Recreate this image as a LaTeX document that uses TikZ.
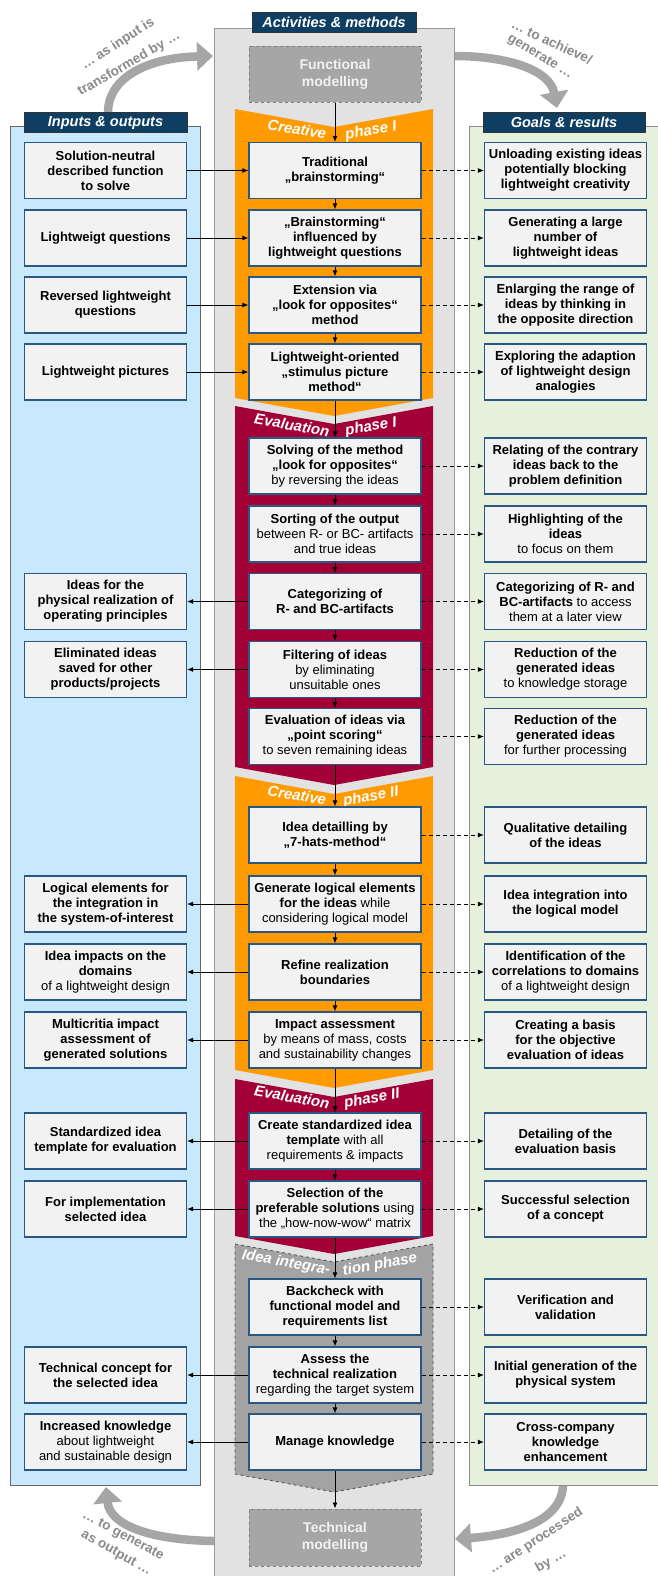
\documentclass[tikz,border=0pt]{standalone}
\usepackage{fontspec}
\setmainfont{Liberation Sans}
\usetikzlibrary{arrows.meta}

\definecolor{boxblue}{HTML}{2A5783}
\definecolor{headblue}{HTML}{0E3E62}
\definecolor{panelblue}{HTML}{C8E9FB}
\definecolor{panelgreen}{HTML}{E5F1DC}
\definecolor{colgray}{HTML}{E2E2E2}
\definecolor{creaorange}{HTML}{FF9B00}
\definecolor{evalred}{HTML}{A30038}
\definecolor{intgray}{HTML}{A3A3A3}
\definecolor{fatgray}{HTML}{A6A6A6}
\definecolor{txtgray}{HTML}{8A8A8A}

\begin{document}
\begin{tikzpicture}[x=1pt, y=-1pt,
		actbox/.style={draw=boxblue, line width=1.2pt, fill=black!5, align=center, inner sep=1pt,
			minimum width=172pt, minimum height=56pt, font=\fontsize{13}{15}\selectfont\bfseries},
		sidebox/.style={actbox, minimum width=162pt},
		headbox/.style={draw=black!80, line width=.8pt, fill=headblue, text=white, inner sep=0pt,
			minimum height=20pt, font=\fontsize{14.5}{16}\selectfont\bfseries\itshape},
		modbox/.style={draw=black!50, dashed, line width=1pt, fill=black!35, text=black!5, align=center,
			minimum width=172pt, minimum height=56pt, font=\fontsize{14}{17}\selectfont\bfseries},
		phaselabel/.style={text=white, inner sep=0pt, font=\fontsize{15}{15}\selectfont\bfseries\itshape},
		loopnote/.style={text=txtgray, inner sep=0pt, font=\fontsize{13.5}{16}\selectfont\bfseries},
		fatarrow/.style={draw=fatgray, line width=8.5pt, -{Triangle[length=16pt, width=28pt]}},
		flowarrow/.style={line width=.9pt, -{Latex[length=6pt, width=5pt]}},
		goalflow/.style={flowarrow, dash pattern=on 4pt off 3pt}]

		\useasboundingbox (0,0) rectangle (657,1576);
		\fill[white] (0,0) rectangle (657,1576);

		\draw[fatarrow] (108,112) .. controls (108,82) and (140,58) .. (213,56);
		\draw[fatarrow] (454,56) .. controls (508,56) and (550,70) .. (557,108);
		\draw[fatarrow] (214,1541) .. controls (152,1540) and (110,1526) .. (106,1487);
		\draw[fatarrow] (563,1485) .. controls (562,1522) and (512,1535) .. (455,1539);

		\node[loopnote, rotate=33] (tl1) at (118,44) {… as input is};
		\node[loopnote, rotate=30] (tl2) at (129,64) {transformed by …};
		\node[loopnote, rotate=-25] (tr1) at (552,42) {… to achieve/};
		\node[loopnote, rotate=-31] (tr2) at (540,57) {generate …};
		\node[loopnote, rotate=-28] (bl1) at (123,1536) {… to generate};
		\node[loopnote, rotate=-29] (bl2) at (116,1553) {as output …};
		\node[loopnote, rotate=33] (br1) at (536,1541) {… are processed};
		\node[loopnote, rotate=30] (br2) at (551,1561) {by …};

		\filldraw[draw=black!60, line width=1pt, fill=panelblue] (10,127) rectangle (200,1485);
		\filldraw[draw=black!45, line width=1pt, fill=panelgreen] (469,127) rectangle (665,1485);
		\filldraw[draw=black!40, line width=1pt, fill=colgray] (214,29) rectangle (454,1590);

		\fill[creaorange] (235,109) -- (334,127) -- (433,109) -- (433,398) -- (334,416) -- (235,398) -- cycle;
		\fill[evalred] (235,406) -- (334,424) -- (433,406) -- (433,767) -- (334,785) -- (235,767) -- cycle;
		\fill[creaorange] (235,776) -- (334,794) -- (433,776) -- (433,1070) -- (334,1088) -- (235,1070) -- cycle;
		\fill[evalred] (235,1079) -- (334,1097) -- (433,1079) -- (433,1236) -- (334,1254) -- (235,1236) -- cycle;
		\filldraw[fill=intgray, draw=black!65, dashed, line width=.9pt] (235,1244) -- (334,1262) -- (433,1244) -- (433,1474) -- (334,1492) -- (235,1474) -- cycle;

		\node[phaselabel, rotate=-10] (c1a) at (297,129) {Creative};
		\node[phaselabel, rotate=10] (c1b) at (371,131) {phase I};
		\node[phaselabel, rotate=-10] (e1a) at (292,425) {Evaluation};
		\node[phaselabel, rotate=10] (e1b) at (371,427) {phase I};
		\node[phaselabel, rotate=-10] (c2a) at (297,795) {Creative};
		\node[phaselabel, rotate=10] (c2b) at (371,797) {phase II};
		\node[phaselabel, rotate=-10] (e2a) at (292,1097) {Evaluation};
		\node[phaselabel, rotate=10] (e2b) at (372,1099) {phase II};
		\node[phaselabel, rotate=-10] (i1a) at (286,1263) {Idea integra-};
		\node[phaselabel, rotate=10] (i1b) at (380,1265) {tion phase};

		\node[headbox, minimum width=164pt] (acthead) at (334,22) {Activities \& methods};
		\node[headbox, minimum width=163pt] (inhead) at (105.5,122.5) {Inputs \& outputs};
		\node[headbox, minimum width=162pt] (goalhead) at (564,122.5) {Goals \& results};

		\node[modbox] (funmod) at (335,74.5) {Functional\\modelling};
		\node[modbox, minimum height=57pt] (techmod) at (335,1537.5) {Technical\\modelling};

		\node[actbox] (m1) at (335,170.5) {Traditional\\„brainstorming“};
		\node[actbox] (m2) at (335,238) {„Brainstorming“\\influenced by\\lightweight questions};
		\node[actbox] (m3) at (335,305) {Extension via\\„look for opposites“\\method};
		\node[actbox] (m4) at (335,372) {Lightweight-oriented\\„stimulus picture\\method“};
		\node[actbox] (m5) at (335,466) {Solving of the method\\„look for opposites“\\\mdseries by reversing the ideas};
		\node[actbox] (m6) at (335,534) {Sorting of the output\\\mdseries between R- or BC- artifacts\\\mdseries and true ideas};
		\node[actbox] (m7) at (335,601.5) {Categorizing of\\R- and BC-artifacts};
		\node[actbox] (m8) at (335,669.5) {Filtering of ideas\\\mdseries by eliminating\\\mdseries unsuitable ones};
		\node[actbox] (m9) at (335,736.5) {Evaluation of ideas via\\„point scoring“\\\mdseries to seven remaining ideas};
		\node[actbox] (m10) at (335,835) {Idea detailling by\\„7-hats-method“};
		\node[actbox] (m11) at (335,904) {Generate logical elements\\for the ideas {\mdseries while}\\\mdseries considering logical model};
		\node[actbox] (m12) at (335,972) {Refine realization\\boundaries};
		\node[actbox] (m13) at (335,1040) {Impact assessment\\\mdseries by means of mass, costs\\\mdseries and sustainability changes};
		\node[actbox] (m14) at (335,1141) {Create standardized idea\\template {\mdseries with all}\\\mdseries requirements \& impacts};
		\node[actbox] (m15) at (335,1209) {Selection of the\\preferable solutions {\mdseries using}\\\mdseries the „how-now-wow“ matrix};
		\node[actbox] (m16) at (335,1307) {Backcheck with\\functional model and\\requirements list};
		\node[actbox] (m17) at (335,1375) {Assess the\\technical realization\\\mdseries regarding the target system};
		\node[actbox] (m18) at (335,1442) {Manage knowledge};

		\node[sidebox] (l1) at (105.5,170.5) {Solution-neutral\\described function\\to solve};
		\node[sidebox] (l2) at (105.5,238) {Lightweigt questions};
		\node[sidebox] (l3) at (105.5,305) {Reversed lightweight\\questions};
		\node[sidebox] (l4) at (105.5,372) {Lightweight pictures};
		\node[sidebox] (l7) at (105.5,601.5) {Ideas for the\\physical realization of\\operating principles};
		\node[sidebox] (l8) at (105.5,669.5) {Eliminated ideas\\saved for other\\products/projects};
		\node[sidebox] (l11) at (105.5,904) {Logical elements for\\the integration in\\the system-of-interest};
		\node[sidebox] (l12) at (105.5,972) {Idea impacts on the\\domains\\\mdseries of a lightweight design};
		\node[sidebox] (l13) at (105.5,1040) {Multicritia impact\\assessment of\\generated solutions};
		\node[sidebox] (l14) at (105.5,1141) {Standardized idea\\template for evaluation};
		\node[sidebox] (l15) at (105.5,1209) {For implementation\\selected idea};
		\node[sidebox] (l17) at (105.5,1375) {Technical concept for\\the selected idea};
		\node[sidebox] (l18) at (105.5,1442) {Increased knowledge\\\mdseries about lightweight\\\mdseries and sustainable design};

		\node[sidebox] (r1) at (565.5,170.5) {Unloading existing ideas\\potentially blocking\\lightweight creativity};
		\node[sidebox] (r2) at (565.5,238) {Generating a large\\number of\\lightweight ideas};
		\node[sidebox] (r3) at (565.5,305) {Enlarging the range of\\ideas by thinking in\\the opposite direction};
		\node[sidebox] (r4) at (565.5,372) {Exploring the adaption\\of lightweight design\\analogies};
		\node[sidebox] (r5) at (565.5,466) {Relating of the contrary\\ideas back to the\\problem definition};
		\node[sidebox] (r6) at (565.5,534) {Highlighting of the\\ideas\\\mdseries to focus on them};
		\node[sidebox] (r7) at (565.5,601.5) {Categorizing of R- and\\BC-artifacts {\mdseries to access}\\\mdseries them at a later view};
		\node[sidebox] (r8) at (565.5,669.5) {Reduction of the\\generated ideas\\\mdseries to knowledge storage};
		\node[sidebox] (r9) at (565.5,736.5) {Reduction of the\\generated ideas\\\mdseries for further processing};
		\node[sidebox] (r10) at (565.5,835) {Qualitative detailing\\of the ideas};
		\node[sidebox] (r11) at (565.5,904) {Idea integration into\\the logical model};
		\node[sidebox] (r12) at (565.5,972) {Identification of the\\correlations to domains\\\mdseries of a lightweight design};
		\node[sidebox] (r13) at (565.5,1040) {Creating a basis\\for the objective\\evaluation of ideas};
		\node[sidebox] (r14) at (565.5,1141) {Detailing of the\\evaluation basis};
		\node[sidebox] (r15) at (565.5,1209) {Successful selection\\of a concept};
		\node[sidebox] (r16) at (565.5,1307) {Verification and\\validation};
		\node[sidebox] (r17) at (565.5,1375) {Initial generation of the\\physical system};
		\node[sidebox] (r18) at (565.5,1442) {Cross-company\\knowledge\\enhancement};

		\foreach \a/\b in {funmod/m1, m1/m2, m2/m3, m3/m4, m4/m5, m5/m6, m6/m7, m7/m8, m8/m9, m9/m10,
			m10/m11, m11/m12, m12/m13, m13/m14, m14/m15, m15/m16, m16/m17, m17/m18, m18/techmod}
			\draw[flowarrow] (\a) -- (\b);

		\foreach \i in {1,2,3,4}
			\draw[flowarrow] (l\i) -- (m\i);
		\foreach \i in {7,8,11,12,13,14,15,17,18}
			\draw[flowarrow] (m\i) -- (l\i);
		\foreach \i in {1,...,18}
			\draw[goalflow] (m\i) -- (r\i);
	\end{tikzpicture}
\end{document}
